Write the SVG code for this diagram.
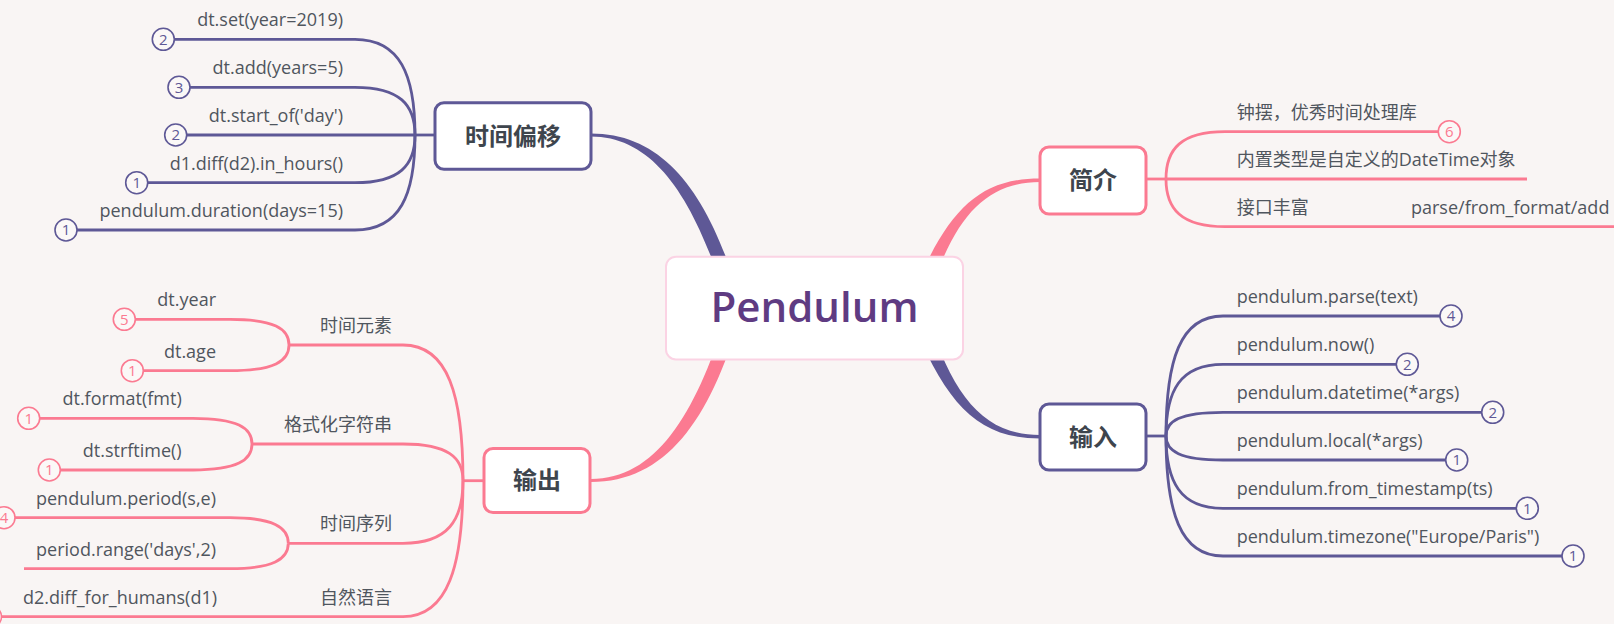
<svg xmlns="http://www.w3.org/2000/svg" width="1614" height="624" viewBox="0 0 1614 624">
<style>
.bg{fill:#F9F5F4}
.p{stroke:#5E5896}
.k{stroke:#FB7A91}
.ln{fill:none;stroke-width:2.8;stroke-linecap:butt}
.tp{fill:#FFFFFF;stroke-width:3}
.lb{font-family:"Open Sans","Noto Sans CJK SC",sans-serif;font-size:18px;fill:#50565E}
.tt{font-family:"Noto Sans CJK SC",sans-serif;font-size:24px;font-weight:bold;fill:#3E454D;text-anchor:middle}
.bp{fill:#FBF8F7;stroke:#5E5896;stroke-width:1.6}
.bk{fill:#FBF8F7;stroke:#FB7A91;stroke-width:1.6}
.np{font-family:"Open Sans",sans-serif;font-size:15px;fill:#5E5896;text-anchor:middle}
.nk{font-family:"Open Sans",sans-serif;font-size:15px;fill:#FB7A91;text-anchor:middle}
.e{text-anchor:end}
</style>
<rect class="bg" x="0" y="0" width="1614" height="624"/>
<g id="connectors">
<!-- main tapered branches -->
<path fill="#5E5896" d="M591,133.5 C665,133.5 710,195 740,300 L726,300 C695,200 655,136.5 591,136.5 Z"/>
<path fill="#FB7A91" d="M591,482 C665,482 710,421 740,316 L726,316 C695,416 655,479 591,479 Z"/>
<path fill="#FB7A91" d="M1040,178.5 C975,178.5 945,215 910,300 L928,300 C953,218 985,182 1040,182 Z"/>
<path fill="#5E5896" d="M1040,438.5 C975,438.5 945,401 910,316 L928,316 C953,398 985,435 1040,435 Z"/>
<!-- 时间偏移 -->
<g class="ln p">
<path d="M435,135 L415,135"/>
<path d="M415,135 C415,75 400,39.3 355,39.3 L174.3,39.3"/>
<path d="M415,135 C415,105 400,87.3 355,87.3 L190,87.3"/>
<path d="M415,135 L186.7,135"/>
<path d="M415,135 C415,165 400,182.7 355,182.7 L147.7,182.7"/>
<path d="M415,135 C415,195 400,230 355,230 L77,230"/>
</g>
<!-- 输出 -->
<g class="ln k">
<path d="M484,480.7 L463,480.7"/>
<path d="M463,480.7 C463,395 448,345 403,345 L289,345"/>
<path d="M463,480.7 C463,457.6 448,444 403,444 L252,444"/>
<path d="M463,480.7 C463,520 448,543.3 403,543.3 L288.3,543.3"/>
<path d="M463,480.7 C463,565.7 448,616.7 403,616.7 L1.5,616.7"/>
<path d="M289,345 C289,328.8 274,319.3 230,319.3 L135.3,319.3"/>
<path d="M289,345 C289,361.2 274,370.7 230,370.7 L143.3,370.7"/>
<path d="M252,444 C252,427.8 237,418.3 193,418.3 L39.7,418.3"/>
<path d="M252,444 C252,460.3 237,470 193,470 L60.3,470"/>
<path d="M288.3,543.3 C288.3,527.2 273,517.7 230,517.7 L15,517.7"/>
<path d="M288.3,543.3 C288.3,559.3 273,568.7 230,568.7 L24,568.7"/>
</g>
<!-- 简介 -->
<g class="ln k">
<path d="M1146,179 L1166,179"/>
<path d="M1166,179 C1166,149.2 1181,131.7 1225,131.7 L1438.3,131.7"/>
<path d="M1166,179 L1527,179"/>
<path d="M1166,179 C1166,208.8 1181,226.7 1225,226.7 L1614,226.7"/>
</g>
<!-- 输入 -->
<g class="ln p">
<path d="M1146,436 L1166,436"/>
<path d="M1166,436 C1166,360.4 1180,316 1223,316 L1440,316"/>
<path d="M1166,436 C1166,390.8 1180,364.3 1223,364.3 L1396.3,364.3"/>
<path d="M1166,436 C1166,421.1 1180,412.3 1223,412.3 L1481.7,412.3"/>
<path d="M1166,436 C1166,451.1 1180,460 1223,460 L1445.7,460"/>
<path d="M1166,436 C1166,481.5 1180,508.3 1223,508.3 L1516.3,508.3"/>
<path d="M1166,436 C1166,511.6 1180,556 1223,556 L1562,556"/>
</g>
</g>

<g id="central">
<rect x="666" y="256.7" width="297" height="102.7" rx="10" fill="#FFFFFF" stroke="#FBD3E4" stroke-width="2"/>
<text x="814.5" y="321.7" text-anchor="middle" font-family="'Open Sans','Noto Sans',sans-serif" font-size="42" font-weight="600" fill="#5F3B82">Pendulum</text>
</g>

<g id="topic-shijianpianyi">
<rect class="tp p" x="435" y="102.7" width="156" height="66.6" rx="9"/>
<text class="tt" x="513" y="144.5">时间偏移</text>
</g>
<g id="topic-shuchu">
<rect class="tp k" x="484" y="448.5" width="106" height="64" rx="9"/>
<text class="tt" x="537" y="489">输出</text>
</g>
<g id="topic-jianjie">
<rect class="tp k" x="1040" y="147" width="106" height="67" rx="9"/>
<text class="tt" x="1093" y="189">简介</text>
</g>
<g id="topic-shuru">
<rect class="tp p" x="1040" y="404" width="106" height="66" rx="9"/>
<text class="tt" x="1093" y="445.5">输入</text>
</g>

<!-- 时间偏移 children -->
<g id="n-set"><text class="lb e" x="343" y="26.3">dt.set(year=2019)</text><circle class="bp" cx="163.3" cy="39.3" r="11"/><text class="np" x="163.3" y="44.5">2</text></g>
<g id="n-add"><text class="lb e" x="343" y="74.3">dt.add(years=5)</text><circle class="bp" cx="179" cy="87.3" r="11"/><text class="np" x="179" y="92.5">3</text></g>
<g id="n-startof"><text class="lb e" x="343" y="122">dt.start_of('day')</text><circle class="bp" cx="175.7" cy="135" r="11"/><text class="np" x="175.7" y="140.2">2</text></g>
<g id="n-diff"><text class="lb e" x="343" y="169.7">d1.diff(d2).in_hours()</text><circle class="bp" cx="136.7" cy="182.7" r="11"/><text class="np" x="136.7" y="187.9">1</text></g>
<g id="n-duration"><text class="lb e" x="343" y="217">pendulum.duration(days=15)</text><circle class="bp" cx="66" cy="230" r="11"/><text class="np" x="66" y="235.2">1</text></g>

<!-- 输出 children -->
<g id="n-yuansu"><text class="lb e" x="392" y="332">时间元素</text></g>
<g id="n-geshihua"><text class="lb e" x="392" y="431">格式化字符串</text></g>
<g id="n-xulie"><text class="lb e" x="392" y="530.3">时间序列</text></g>
<g id="n-ziran"><text class="lb e" x="392" y="603.7">自然语言</text></g>
<g id="n-year"><text class="lb e" x="216" y="306.3">dt.year</text><circle class="bk" cx="124.3" cy="319.3" r="11"/><text class="nk" x="124.3" y="324.5">5</text></g>
<g id="n-age"><text class="lb e" x="216" y="357.7">dt.age</text><circle class="bk" cx="132.3" cy="370.7" r="11"/><text class="nk" x="132.3" y="375.9">1</text></g>
<g id="n-format"><text class="lb e" x="181.7" y="405.3">dt.format(fmt)</text><circle class="bk" cx="28.7" cy="418.3" r="11"/><text class="nk" x="28.7" y="423.5">1</text></g>
<g id="n-strftime"><text class="lb e" x="181.7" y="457">dt.strftime()</text><circle class="bk" cx="49.3" cy="470" r="11"/><text class="nk" x="49.3" y="475.2">1</text></g>
<g id="n-period"><text class="lb e" x="216" y="504.7">pendulum.period(s,e)</text><circle class="bk" cx="4" cy="517.7" r="11"/><text class="nk" x="4" y="522.9">4</text></g>
<g id="n-range"><text class="lb e" x="216" y="555.7">period.range('days',2)</text></g>
<g id="n-humans"><text class="lb e" x="217" y="603.7">d2.diff_for_humans(d1)</text><circle class="bk" cx="-9.5" cy="616.7" r="11"/></g>

<!-- 简介 children -->
<g id="n-zhongbai"><text class="lb" x="1236.7" y="118.7">钟摆，优秀时间处理库</text><circle class="bk" cx="1449.3" cy="131.7" r="11"/><text class="nk" x="1449.3" y="136.9">6</text></g>
<g id="n-neizhi"><text class="lb" x="1236.7" y="166">内置类型是自定义的DateTime对象</text></g>
<g id="n-jiekou"><text class="lb" x="1236.7" y="213.7">接口丰富</text></g>
<g id="n-parseadd"><text class="lb" x="1411" y="213.7">parse/from_format/add</text></g>

<!-- 输入 children -->
<g id="n-parse"><text class="lb" x="1236.7" y="303">pendulum.parse(text)</text><circle class="bp" cx="1451" cy="316" r="11"/><text class="np" x="1451" y="321.2">4</text></g>
<g id="n-now"><text class="lb" x="1236.7" y="351.3">pendulum.now()</text><circle class="bp" cx="1407.3" cy="364.3" r="11"/><text class="np" x="1407.3" y="369.5">2</text></g>
<g id="n-datetime"><text class="lb" x="1236.7" y="399.3">pendulum.datetime(*args)</text><circle class="bp" cx="1492.7" cy="412.3" r="11"/><text class="np" x="1492.7" y="417.5">2</text></g>
<g id="n-local"><text class="lb" x="1236.7" y="447">pendulum.local(*args)</text><circle class="bp" cx="1456.7" cy="460" r="11"/><text class="np" x="1456.7" y="465.2">1</text></g>
<g id="n-fromts"><text class="lb" x="1236.7" y="495.3">pendulum.from_timestamp(ts)</text><circle class="bp" cx="1527.3" cy="508.3" r="11"/><text class="np" x="1527.3" y="513.5">1</text></g>
<g id="n-timezone"><text class="lb" x="1236.7" y="543">pendulum.timezone("Europe/Paris")</text><circle class="bp" cx="1573" cy="556" r="11"/><text class="np" x="1573" y="561.2">1</text></g>
</svg>
